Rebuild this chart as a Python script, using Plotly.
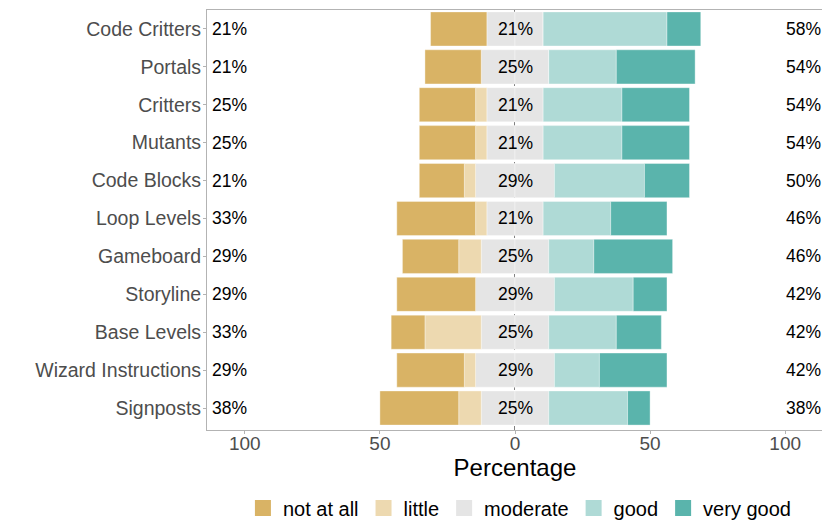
import plotly.graph_objects as go

# survey items, top to bottom
items = ["Code Critters", "Portals", "Critters", "Mutants", "Code Blocks",
         "Loop Levels", "Gameboard", "Storyline", "Base Levels",
         "Wizard Instructions", "Signposts"]

# answer counts per item (24 respondents)
n_resp = 24
not_at_all = [5, 5, 5, 5, 4, 7, 5, 7, 3, 6, 7]
little     = [0, 0, 1, 1, 1, 1, 2, 0, 5, 1, 2]
moderate   = [5, 6, 5, 5, 7, 5, 6, 7, 6, 7, 6]
good       = [11, 6, 7, 7, 8, 6, 4, 7, 6, 4, 7]
very_good  = [3, 7, 6, 6, 4, 5, 7, 3, 4, 6, 2]

levels = ["not at all", "little", "moderate", "good", "very good"]
colors = ["#D9B365", "#EDD9B0", "#E5E5E5", "#AFDAD6", "#5AB4AC"]

pct = lambda v: [c / n_resp * 100 for c in v]
p_na, p_li, p_mo, p_go, p_vg = map(pct, [not_at_all, little, moderate, good, very_good])
ypos = list(range(len(items)))

fig = go.Figure()
edge = dict(color="rgba(255,255,255,0.6)", width=0.6)

## relative stacking: negatives grow left from 0, positives grow right
stack = [
    ([-v / 2 for v in p_mo], 2),
    ([v / 2 for v in p_mo], 2),
    ([-v for v in p_li], 1),
    (p_go, 3),
    ([-v for v in p_na], 0),
    (p_vg, 4),
]
for xs, k in stack:
    fig.add_trace(go.Bar(x=xs, y=ypos, orientation="h", width=0.9,
                         marker=dict(color=colors[k], line=edge),
                         name=levels[k], showlegend=False, hoverinfo="skip"))

## legend entries as square markers
for k, lv in enumerate(levels):
    fig.add_trace(go.Scatter(x=[None], y=[None], mode="markers", name=lv,
                             marker=dict(symbol="square", size=16, color=colors[k],
                                         line=dict(width=0))))

## percentage labels
lab_font = dict(family="Liberation Sans, Arial", size=17.5, color="black")
for i in ypos:
    low = p_na[i] + p_li[i]
    high = p_go[i] + p_vg[i]
    fig.add_annotation(x=-112.8, y=i, text=f"{round(low)}%", xanchor="left",
                       showarrow=False, font=lab_font)
    fig.add_annotation(x=0, y=i, text=f"{round(p_mo[i])}%", xanchor="center",
                       showarrow=False, font=lab_font)
    fig.add_annotation(x=1.0, xref="paper", y=i, text=f"{round(high)}%",
                       xanchor="right", showarrow=False, font=lab_font)

fig.add_shape(type="line", x0=0, x1=0, y0=0, y1=1, yref="paper", layer="below",
              line=dict(color="black", width=1, dash="4px,4px"))

## the page body adds 8px around the figure, so the figure is 8px smaller
fig.update_layout(
    width=822, height=521,
    barmode="relative",
    bargap=0.1,
    plot_bgcolor="white", paper_bgcolor="white",
    margin=dict(l=199, r=7, t=2, b=99, autoexpand=False),
    font=dict(family="Liberation Sans, Arial", color="#4D4D4D"),
    legend=dict(orientation="h", x=0.508, xanchor="center", y=-0.186, yanchor="middle",
                font=dict(size=20, color="black"), itemwidth=30,
                tracegroupgap=0),
)
fig.update_xaxes(range=[-114, 114], automargin=False,
                 tickvals=[-100, -50, 0, 50, 100],
                 ticktext=["100", "50", "0", "50", "100"],
                 tickfont=dict(size=19, color="#4D4D4D"),
                 ticks="outside", ticklen=3, tickcolor="#B3B3B3",
                 ticklabelstandoff=-7,
                 showgrid=True, gridcolor="white", zeroline=False,
                 showline=True, mirror=True, linecolor="#B3B3B3", linewidth=1,
                 title=dict(text="Percentage", standoff=5,
                            font=dict(size=24, color="black")))
fig.update_yaxes(range=[10.58, -0.5], automargin=False,
                 tickvals=ypos, ticktext=items,
                 tickfont=dict(size=19.5, color="#4D4D4D"),
                 ticks="outside", ticklen=3, tickcolor="#B3B3B3",
                 ticklabelstandoff=-2,
                 showgrid=False, zeroline=False,
                 showline=True, mirror=True, linecolor="#B3B3B3", linewidth=1)

fig.write_html("out.html")
